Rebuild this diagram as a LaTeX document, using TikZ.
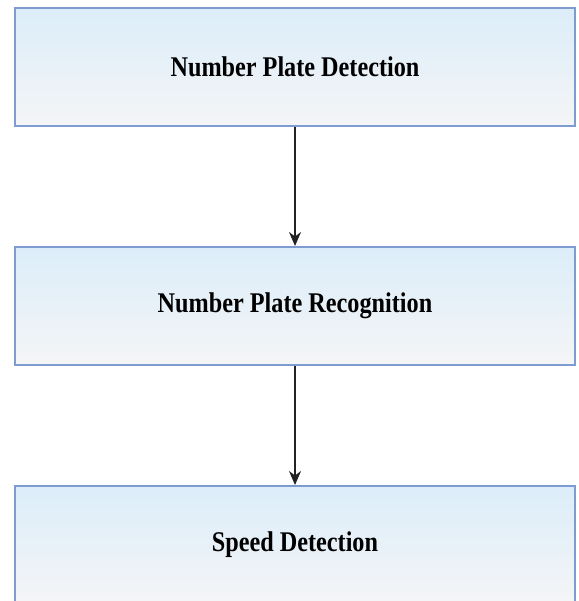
\documentclass[tikz,border=0pt]{standalone}
\usepackage{fontspec}
\setmainfont{Liberation Serif}
\newfontfamily\stagefont[FakeStretch=0.85]{Liberation Serif}
\usetikzlibrary{positioning,arrows.meta}
\definecolor{boxline}{HTML}{7F9CD0}
\definecolor{boxtop}{HTML}{DCEDF9}
\definecolor{boxbot}{HTML}{F4F5F7}
\definecolor{arrowgray}{HTML}{222222}
\begin{document}
\begin{tikzpicture}[x=1pt,y=1pt,
    stage/.style={draw=boxline, line width=2pt, top color=boxtop, bottom color=boxbot,
      minimum width=560pt, minimum height=118pt, font=\stagefont\bfseries\fontsize{28.5}{32}\selectfont},
    flow/.style={-{Stealth[length=14pt,width=12pt]}, arrowgray, line width=1.6pt}]
    \useasboundingbox (0,0) rectangle (578,-601);
    \node[stage] (det) at (295,-67) {Number Plate Detection};
    \node[stage, below=119pt of det] (rec) {Number Plate Recognition};
    \node[stage, below=119pt of rec] (spd) {Speed Detection};
    \draw[flow] (det) -- (rec);
    \draw[flow] (rec) -- (spd);
\end{tikzpicture}
\end{document}
